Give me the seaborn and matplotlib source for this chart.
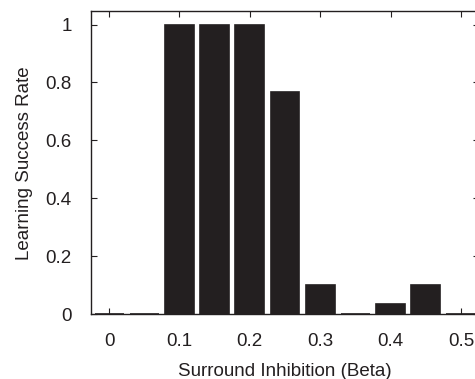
import matplotlib
matplotlib.use("Agg")
import matplotlib.pyplot as plt
import seaborn as sns
import pandas as pd

beta = [0.0, 0.05, 0.1, 0.15, 0.2, 0.25, 0.3, 0.35, 0.4, 0.45, 0.5]
success_rate = [0.0, 0.0, 1.0, 1.0, 1.0, 0.767, 0.1, 0.0, 0.033, 0.1, 0.0]
xticks = [0, 0.1, 0.2, 0.3, 0.4, 0.5]
xtick_labels = ["0", "0.1", "0.2", "0.3", "0.4", "0.5"]
yticks = [0, 0.2, 0.4, 0.6, 0.8, 1.0]
ytick_labels = ["0", "0.2", "0.4", "0.6", "0.8", "1"]

sns.set_theme(style="ticks")
plt.rcParams["font.family"] = ["Liberation Sans", "DejaVu Sans"]

df = pd.DataFrame({"beta": beta, "rate": success_rate})

fig = plt.figure(figsize=(4.75, 3.79), dpi=100)
ax = fig.add_axes([0.1916, 0.1715, 0.8168, 0.7982])

sns.barplot(data=df, x="beta", y="rate", native_scale=True, width=0.824,
            color="#231f20", saturation=1, edgecolor="#231f20", linewidth=1.2,
            errorbar=None, ax=ax)

ax.set_xlim(-0.0256, 0.5256)
ax.set_ylim(0, 1.045)
ax.set_xticks(xticks)
ax.set_xticklabels(xtick_labels)
ax.set_yticks(yticks)
ax.set_yticklabels(ytick_labels)
for s in ax.spines.values():
    s.set_visible(True)
    s.set_color("#231f20")
    s.set_linewidth(1.0)
ax.tick_params(direction="in", top=True, right=True, length=4, width=0.8,
               color="#231f20", labelsize=13.5, labelcolor="#231f20")
ax.tick_params(axis="x", pad=14)
ax.tick_params(axis="y", pad=14)
ax.set_xlabel("Surround Inhibition (Beta)", fontsize=13.5, color="#231f20", labelpad=9)
ax.set_ylabel("Learning Success Rate", fontsize=13.5, color="#231f20", labelpad=9)

fig.savefig("out.png", dpi=100)
